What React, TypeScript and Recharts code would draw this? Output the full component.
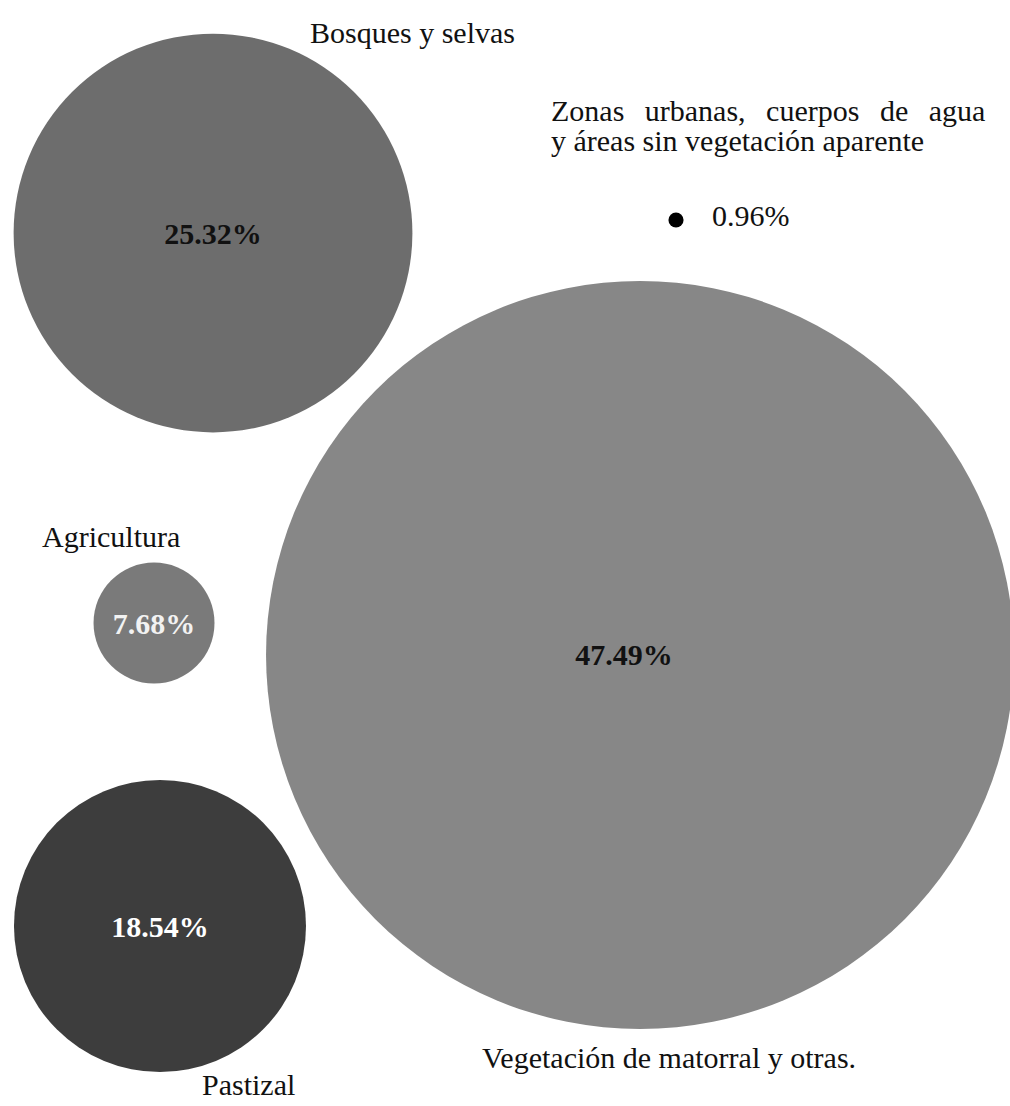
import { ScatterChart, Scatter, XAxis, YAxis, ZAxis } from "recharts";

// land-cover categories and their share of the territory (%)
const categories = [
  "Bosques y selvas",
  "Zonas urbanas, cuerpos de agua y áreas sin vegetación aparente",
  "Agricultura",
  "Pastizal",
  "Vegetación de matorral y otras.",
];
const shares = [25.32, 0.96, 7.68, 18.54, 47.49];

// bubble centres on a 0–100 layout grid (x left→right, y top→bottom)
const layoutX = [21.09, 66.93, 15.25, 15.84, 63.37];
const layoutY = [21.07, 19.89, 56.33, 83.73, 59.22];

const fills = ["#6d6d6d", "#000000", "#7a7a7a", "#3d3d3d", "#878787"];

const W = 1010;
const H = 1106;
const MAX_R = 374;
const FONT = "'Liberation Serif', 'Times New Roman', serif";

// radius grows linearly with the share, so z is the squared share (area)
const data = categories.map((name, i) => ({
  name,
  share: shares[i],
  x: layoutX[i],
  y: layoutY[i],
  z: shares[i] * shares[i],
  fill: fills[i],
}));
const maxZ = Math.max(...data.map((d) => d.z));

type Placement = {
  lines: string[];
  dx: number;
  dy: number;
  lineGap?: number;
  wordSpacing?: number;
  valueInside: boolean;
  valueColor: string;
  valueDx?: number;
  valueDy?: number;
};

const placements: Placement[] = [
  { lines: ["Bosques y selvas"], dx: 97, dy: -190, valueInside: true, valueColor: "#111" },
  {
    lines: ["Zonas urbanas, cuerpos de agua", "y áreas sin vegetación aparente"],
    dx: -125,
    dy: -99,
    lineGap: 30,
    wordSpacing: 13,
    valueInside: false,
    valueColor: "#111",
    valueDx: 36,
    valueDy: 6,
  },
  { lines: ["Agricultura"], dx: -112, dy: -76, valueInside: true, valueColor: "#f2f2f2" },
  { lines: ["Pastizal"], dx: 42, dy: 169, valueInside: true, valueColor: "#ffffff" },
  {
    lines: ["Vegetación de matorral y otras."],
    dx: -158,
    dy: 413,
    valueInside: true,
    valueColor: "#111",
    valueDx: -16,
  },
];

const fmt = (v: number) => `${v.toFixed(2)}%`;

function Bubble(props: any) {
  const { cx, cy, width, size, payload } = props;
  const r = Number.isFinite(width) ? width / 2 : Math.sqrt(Math.max(size, 0) / Math.PI);
  const idx = categories.indexOf(payload.name);
  const p = placements[idx];
  return (
    <g>
      <circle cx={cx} cy={cy} r={r} fill={payload.fill} />
      {p.valueInside ? (
        <text
          x={cx + (p.valueDx ?? 0)}
          y={cy}
          textAnchor="middle"
          dominantBaseline="central"
          fontFamily={FONT}
          fontSize={30}
          fontWeight="bold"
          fill={p.valueColor}
        >
          {fmt(payload.share)}
        </text>
      ) : (
        <text
          x={cx + (p.valueDx ?? 0)}
          y={cy + (p.valueDy ?? 0)}
          fontFamily={FONT}
          fontSize={30}
          fill={p.valueColor}
        >
          {fmt(payload.share)}
        </text>
      )}
      {p.lines.map((line, li) => (
        <text
          key={li}
          x={cx + p.dx}
          y={cy + p.dy + li * (p.lineGap ?? 0)}
          fontFamily={FONT}
          fontSize={30}
          fill="#111"
          style={li === 0 && p.wordSpacing ? { wordSpacing: p.wordSpacing } : undefined}
        >
          {line}
        </text>
      ))}
    </g>
  );
}

export default function App() {
  return (
    <div style={{ position: "absolute", left: 0, top: 0, width: W, height: H, background: "#fff" }}>
      <ScatterChart width={W} height={H} margin={{ top: 0, right: 0, bottom: 0, left: 0 }}>
        <XAxis type="number" dataKey="x" domain={[0, 100]} hide />
        <YAxis type="number" dataKey="y" domain={[0, 100]} reversed hide />
        <ZAxis type="number" dataKey="z" domain={[0, maxZ]} range={[0, Math.PI * MAX_R * MAX_R]} />
        <Scatter data={data} shape={Bubble} isAnimationActive={false} />
      </ScatterChart>
    </div>
  );
}
